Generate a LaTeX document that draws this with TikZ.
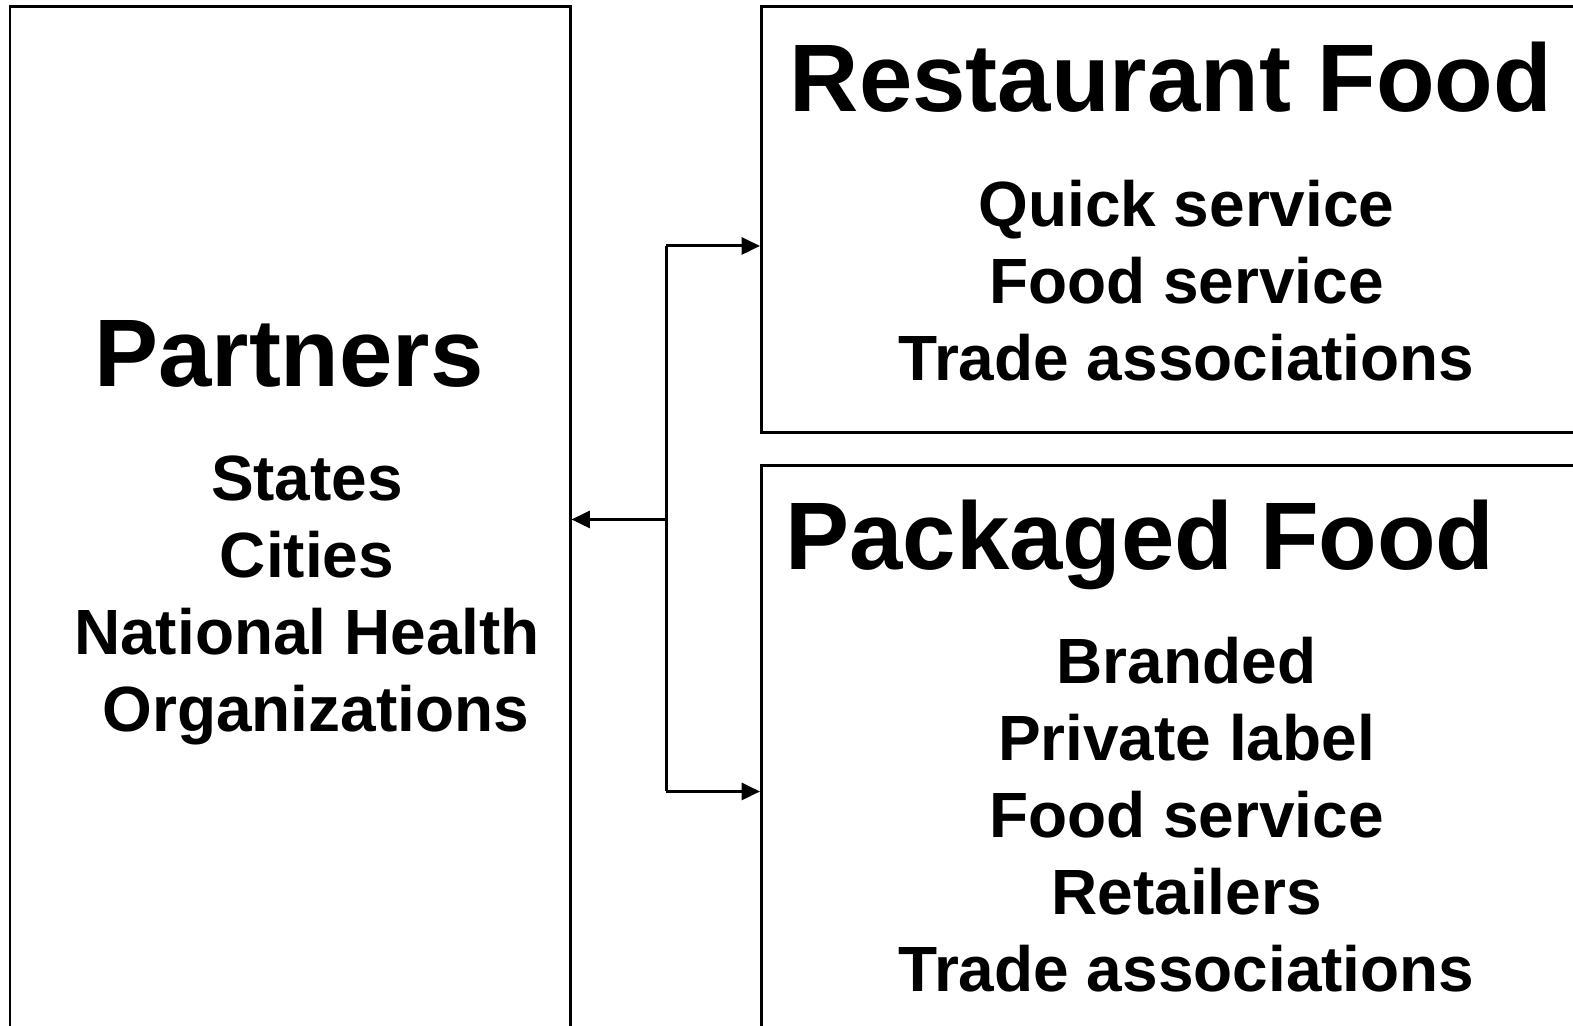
\documentclass[tikz,border=0pt]{standalone}
\usepackage{fontspec}
\setmainfont{Liberation Sans}
\usepackage{tikz}
\usetikzlibrary{positioning,calc,arrows.meta}

\begin{document}
\begin{tikzpicture}[>={Triangle[length=5.2pt,width=4.8pt]},line width=0.85pt,
                box/.style={draw,rectangle,inner sep=0pt},
                title/.style={anchor=base,font=\fontsize{27.3}{32}\selectfont\bfseries},
                items/.style={anchor=base,align=center,font=\fontsize{18.2}{21.95}\selectfont\bfseries}]
\useasboundingbox (0,0) rectangle (15.73,10.26);
\clip (0,0) rectangle (15.73,10.26);
%Boxes
    \node[box,minimum width=5.60cm,minimum height=10.25cm] (partners) at (2.90,5.065) {};
    \node[box,minimum width=8.31cm,minimum height=4.26cm] (restaurant) at (11.77,8.06) {};
    \node[box,minimum width=8.31cm,minimum height=5.805cm] (packaged) at (11.77,2.7025) {};
%Texts (lists sit on the baseline of their last line)
    \node[title] (partnersT) at (2.89,6.39) {Partners};
    \node[items] (partnersL) at (3.07,2.94) {States\\Cities\\National Health\\\hspace*{5pt}Organizations};
    \node[title] (restaurantT) at (11.71,9.14) {Restaurant Food};
    \node[items] (restaurantL) at (11.865,6.45) {Quick service\\Food service\\Trade associations};
    \node[title] (packagedT) at (11.40,4.56) {Packaged Food};
    \node[items] (packagedL) at (11.865,0.34) {Branded\\Private label\\Food service\\Retailers\\Trade associations};
%Connectors
    \coordinate (hub) at (6.66,5.065);
    \coordinate (top) at (6.66,7.80);
    \coordinate (bottom) at (6.66,2.345);
    \draw (top) -- (bottom);
    \draw[->] (hub) -- (partners.east);
    \draw[->] (top) -- (top -| restaurant.west);
    \draw[->] (bottom) -- (bottom -| packaged.west);
\end{tikzpicture}
\end{document}
